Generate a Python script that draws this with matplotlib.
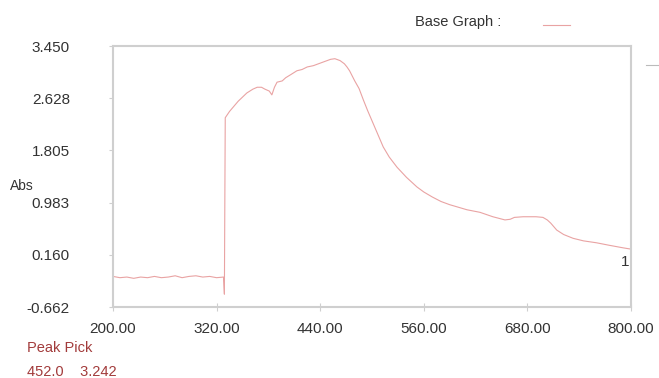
import matplotlib
matplotlib.use("Agg")
import matplotlib.pyplot as plt

plt.rcParams['font.family'] = ['Liberation Sans', 'DejaVu Sans']

# spectrum
wavelength = [200, 208, 216, 224, 232, 240, 248, 256, 264, 272, 280, 288, 296, 304, 312, 320, 328,
              329, 330, 335, 345, 355, 362, 367, 372, 376, 381, 384, 387, 390, 396, 400, 406,
              413, 419, 425, 432, 440, 446, 452, 457, 463, 468, 471, 474, 477, 480, 485, 490,
              495, 501, 507, 513, 520, 529, 540, 552, 560, 570, 580, 590, 600, 610, 625, 640,
              654, 660, 665, 675, 690, 698, 703, 707, 714, 722, 733, 745, 760, 775, 791, 800]
absorb = [-0.18, -0.20, -0.19, -0.21, -0.19, -0.20, -0.18, -0.20, -0.19, -0.17, -0.20, -0.18,
          -0.17, -0.19, -0.18, -0.20, -0.19,
          -0.46, 2.32, 2.42, 2.58, 2.71, 2.77, 2.80, 2.80, 2.77, 2.74, 2.68, 2.80, 2.88, 2.90,
          2.95, 3.00, 3.06, 3.08, 3.12, 3.14, 3.18, 3.21, 3.24, 3.25, 3.22, 3.17, 3.12, 3.06,
          2.98, 2.90, 2.78, 2.60, 2.43, 2.24, 2.05, 1.86, 1.70, 1.54, 1.38, 1.23, 1.15, 1.07,
          1.00, 0.95, 0.91, 0.87, 0.83, 0.76, 0.71, 0.72, 0.75, 0.76, 0.76, 0.75, 0.71, 0.66,
          0.55, 0.48, 0.42, 0.38, 0.35, 0.31, 0.27, 0.25]

xticks = [200, 320, 440, 560, 680, 800]
yticks = [-0.662, 0.160, 0.983, 1.805, 2.628, 3.450]
peak = (452.0, 3.242)

line_col = '#e9a3a3'
axis_col = '#cfcfcf'
txt_col = '#333333'
red_txt = '#a23b3b'

fig = plt.figure(figsize=(6.59, 3.78), dpi=100)
ax = fig.add_axes([0.1715, 0.1878, 0.786, 0.6905])
ax.plot(wavelength, absorb, color=line_col, lw=0.8)

ax.set_xlim(200, 800)
ax.set_ylim(-0.662, 3.450)
ax.set_xticks(xticks)
ax.set_xticklabels(['%.2f' % v for v in xticks])
ax.set_yticks(yticks)
ax.set_yticklabels(['%.3f' % v for v in yticks])
for s in ax.spines.values():
    s.set_color(axis_col)
    s.set_linewidth(1.5)
ax.tick_params(axis='y', direction='out', length=3, color=axis_col, pad=28,
               labelsize=11, labelcolor=txt_col)
ax.tick_params(axis='x', direction='inout', length=6, color=axis_col, pad=8,
               labelsize=11, labelcolor=txt_col)

ax.text(wavelength[-1] - 2, absorb[-1] - 0.1, '1', ha='right', va='top',
        fontsize=11, color=txt_col)

fig.text(10 / 659, 1 - 186 / 378, 'Abs', fontsize=10, color=txt_col, ha='left', va='center')
fig.text(415 / 659, 1 - 22 / 378, 'Base Graph :', fontsize=10.5, color=txt_col,
         ha='left', va='center')
fig.add_artist(plt.Line2D([543 / 659, 570 / 659], [1 - 25 / 378, 1 - 25 / 378],
                          color=line_col, lw=0.8))
fig.add_artist(plt.Line2D([646 / 659, 659 / 659], [1 - 65 / 378, 1 - 65 / 378],
                          color='#bbbbbb', lw=0.8))

fig.text(27 / 659, 1 - 348 / 378, 'Peak Pick', fontsize=10.5, color=red_txt, ha='left', va='center')
fig.text(27 / 659, 1 - 372 / 378, '%.1f    %.3f' % peak, fontsize=10.5, color=red_txt,
         ha='left', va='center')

fig.savefig('out.png', dpi=100)
